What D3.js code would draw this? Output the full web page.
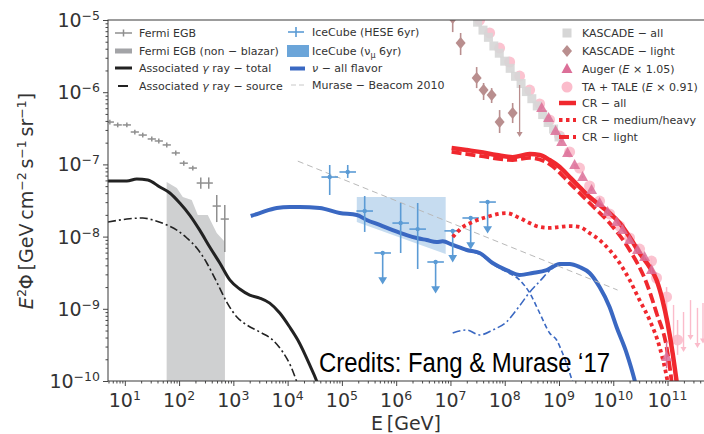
<!DOCTYPE html>
<html>
<head>
<meta charset="utf-8">
<script src="https://cdn.jsdelivr.net/npm/d3@7"></script>
<style>
  body { margin: 0; background: #fff; }
  svg { display: block; }
  text { font-family: "DejaVu Sans", sans-serif; fill: #333; }
</style>
</head>
<body>
<svg id="chart" width="704" height="434"></svg>
<script>
// Energies in GeV, fluxes as E^2 Phi in GeV cm^-2 s^-1 sr^-1

// Fermi extragalactic gamma-ray background
const fermiE  = [5.3, 7.4, 10.9, 15.3, 21.4, 31.4, 42.3, 59.3, 86.9, 122, 179, 251, 352, 494, 695];
const fermiF  = [3.86e-7, 3.52e-7, 3.52e-7, 2.81e-7, 2.55e-7, 2.25e-7, 2.11e-7, 1.86e-7, 1.44e-7, 1.04e-7, 8.9e-8, 5.52e-8, 5.52e-8, 2.65e-8, 1.75e-8];
const fermiLo = [3.57e-7, 3.26e-7, 3.26e-7, 2.60e-7, 2.36e-7, 2.08e-7, 1.95e-7, 1.72e-7, 1.33e-7, 9.6e-8, 8.2e-8, 4.6e-8, 4.6e-8, 1.59e-8, 6.1e-9];
const fermiHi = [4.17e-7, 3.80e-7, 3.80e-7, 3.03e-7, 2.75e-7, 2.43e-7, 2.28e-7, 2.01e-7, 1.56e-7, 1.12e-7, 9.6e-8, 6.6e-8, 6.6e-8, 3.77e-8, 2.74e-8];
const fermiBin = 1.19;

// Fermi EGB non-blazar upper band
const nonBlazarE = [59, 90.8, 117, 171, 221, 338, 494, 700];
const nonBlazarF = [5.7e-8, 4.71e-8, 3.53e-8, 3.21e-8, 1.99e-8, 1.99e-8, 1.12e-8, 8.4e-9];

// Associated gamma rays
const assocTotE = [4.9, 10.9, 16.6, 26.5, 44.2, 67.5, 103, 157, 240, 367, 562, 859, 1310, 2000, 3060, 4680, 7160, 10900, 15400, 25500, 35800, 45000];
const assocTotF = [5.89e-8, 5.89e-8, 6.28e-8, 6.08e-8, 4.86e-8, 4.02e-8, 2.92e-8, 1.99e-8, 1.23e-8, 7.18e-9, 4.31e-9, 2.51e-9, 1.88e-9, 1.55e-9, 1.41e-9, 1.20e-9, 8.75e-10, 5.60e-10, 3.70e-10, 1.67e-10, 9.1e-11, 5e-11];
const assocSrcE = [4.9, 10.9, 21.4, 32.8, 59.3, 90.8, 139, 212, 324, 494, 755, 1160, 1770, 3060, 5320, 8130, 11400, 14700, 20000];
const assocSrcF = [1.59e-8, 1.75e-8, 1.81e-8, 1.70e-8, 1.45e-8, 1.23e-8, 9.57e-9, 6.95e-9, 4.31e-9, 2.35e-9, 1.24e-9, 7.69e-10, 5.97e-10, 4.78e-10, 3.70e-10, 2.52e-10, 1.61e-10, 9.8e-11, 5e-11];

// Neutrinos: all flavor and its two components
const nuE = [2090, 3060, 6300, 10900, 16700, 39000, 91000, 1.88e5, 2.86e5, 4.97e5, 8.63e5, 1.56e6, 2.39e6, 3.65e6, 5.57e6, 7.18e6, 1.10e7, 1.99e7, 3.45e7, 5.98e7, 1.08e8, 1.88e8, 3.27e8, 5.92e8, 1.03e9, 1.57e9, 2.39e9, 3.66e9, 5.60e9, 8.55e9, 1.15e10, 1.76e10, 2.47e10, 3.0e10];
const nuF = [1.93e-8, 2.12e-8, 2.49e-8, 2.57e-8, 2.57e-8, 2.49e-8, 2.12e-8, 1.99e-8, 1.70e-8, 1.45e-8, 1.23e-8, 1.05e-8, 9.57e-9, 8.97e-9, 8.41e-9, 8.6e-9, 7.66e-9, 6.52e-9, 5.93e-9, 4.31e-9, 3.44e-9, 2.94e-9, 3.13e-9, 3.44e-9, 4.17e-9, 4.17e-9, 3.79e-9, 3.13e-9, 2.00e-9, 1.06e-9, 5.60e-10, 2.44e-10, 1.03e-10, 5.5e-11];
const nuLowE = [1.99e7, 3.45e7, 5.98e7, 1.08e8, 1.88e8, 2.88e8, 4.40e8, 6.71e8, 9.04e8, 1.16e9, 1.78e9, 2.2e9];
const nuLowF = [6.3e-9, 5.7e-9, 4.17e-9, 3.24e-9, 2.51e-9, 1.66e-9, 8.75e-10, 4.62e-10, 3.70e-10, 2.44e-10, 9.8e-11, 6e-11];
const nuHighE = [1.10e7, 1.99e7, 3.45e7, 5.98e7, 1.08e8, 1.88e8, 2.88e8, 4.40e8, 7.62e8, 1.16e9, 1.78e9, 2.51e9, 3.66e9];
const nuHighF = [4.62e-10, 5.08e-10, 4.34e-10, 5.08e-10, 6.6e-10, 1.1e-9, 1.7e-9, 2.4e-9, 3.67e-9, 4.31e-9, 4.17e-9, 3.70e-9, 3.05e-9];

// Murase - Beacom 2010
const mbE = [1.54e4, 1.2e10];
const mbF = [1.11e-7, 1.82e-9];

// IceCube HESE 6yr
const heseE  = [5.96e4, 1.28e5, 2.63e5, 1.21e6, 2.49e6];
const heseF  = [6.68e-8, 7.85e-8, 2.26e-8, 1.54e-8, 1.27e-8];
const heseLo = [3.77e-8, 6.49e-8, 1.16e-8, 5.93e-9, 3.56e-9];
const heseHi = [9.82e-8, 9.82e-8, 3.65e-8, 2.92e-8, 2.92e-8];
const heseUlE = [5.64e5, 5.33e6, 1.10e7, 2.36e7, 4.84e7];
const heseUlF = [5.93e-9, 4.45e-9, 1.20e-8, 1.81e-8, 3.01e-8];
const heseBin = 1.42;
const heseUlDrop = 2.6;

// IceCube nu_mu 6yr band
const numuE   = [1.88e5, 8.17e6];
const numuTop = [3.53e-8, 3.53e-8];
const numuBot = [1.59e-8, 5.74e-9];

// KASCADE all-particle
const kascE = [2.51e7, 3.16e7, 3.98e7, 5.01e7, 6.31e7, 7.94e7, 1.0e8, 1.26e8, 1.58e8, 2.0e8, 2.51e8, 3.16e8, 3.98e8, 5.01e8, 6.31e8, 7.94e8, 1.0e9];
const kascF = [1.17e-5, 9.33e-6, 7.24e-6, 5.75e-6, 4.37e-6, 3.47e-6, 2.69e-6, 2.14e-6, 1.66e-6, 1.32e-6, 1.02e-6, 8.13e-7, 6.46e-7, 4.90e-7, 3.80e-7, 3.09e-7, 2.40e-7];

// KASCADE light component
const kascLightE  = [1.10e7, 1.54e7, 3.04e7, 4.08e7, 5.74e7, 8.05e7, 1.40e8];
const kascLightF  = [1.07e-5, 4.80e-6, 1.57e-6, 1.07e-6, 9.14e-7, 3.86e-7, 5.15e-7];
const kascLightLo = [6.8e-6, 3.27e-6, 1.14e-6, 7.80e-7, 7.08e-7, 2.72e-7, 3.74e-7];
const kascLightHi = [1.4e-5, 6.61e-6, 2.23e-6, 1.34e-6, 1.14e-6, 5.66e-7, 7.08e-7];
const kascLightUlE   = [1.88e8];
const kascLightUlTop = [1.26e-6];
const kascLightUlBot = [2.4e-7];

// Auger (E x 1.05)
const augerE  = [4.79e8, 6.43e8, 8.65e8, 1.12e9, 1.44e9, 1.94e9, 2.72e9, 3.98e9, 5.60e9, 7.85e9, 1.15e10, 1.48e10, 2.00e10, 2.80e10, 3.77e10, 5.07e10, 9.6e10];
const augerF  = [6.04e-7, 4.40e-7, 2.90e-7, 2.04e-7, 1.44e-7, 9.82e-8, 6.68e-8, 4.42e-8, 2.92e-8, 2.19e-8, 1.59e-8, 1.23e-8, 8.97e-9, 6.52e-9, 5.21e-9, 3.44e-9, 2.15e-10];
const augerLo = [6.0e-7, 4.38e-7, 2.88e-7, 2.02e-7, 1.43e-7, 9.7e-8, 6.6e-8, 4.35e-8, 2.87e-8, 2.14e-8, 1.54e-8, 1.18e-8, 8.5e-9, 6.1e-9, 4.8e-9, 3.0e-9, 1.5e-10];
const augerHi = [6.1e-7, 4.44e-7, 2.93e-7, 2.07e-7, 1.46e-7, 9.95e-8, 6.8e-8, 4.5e-8, 2.98e-8, 2.25e-8, 1.65e-8, 1.28e-8, 9.4e-9, 6.9e-9, 5.6e-9, 3.9e-9, 3.5e-10];

// TA + TALE (E x 0.91)
const taE  = [3.45e7, 5.27e7, 8.05e7, 1.23e8, 1.88e8, 2.88e8, 4.40e8, 6.71e8, 1.03e9, 1.57e9, 2.39e9, 3.66e9, 5.60e9, 8.55e9, 1.31e10, 2.00e10, 3.05e10, 5.07e10, 6.27e10, 9.6e10, 1.53e11];
const taF  = [1.0e-5, 6.61e-6, 4.09e-6, 2.62e-6, 1.67e-6, 1.07e-6, 6.87e-7, 4.12e-7, 2.47e-7, 1.49e-7, 8.91e-8, 5.02e-8, 3.11e-8, 2.06e-8, 1.40e-8, 9.57e-9, 6.73e-9, 4.59e-9, 2.67e-9, 1.46e-9, 3.70e-10];
const taLo = [1.0e-5, 6.61e-6, 4.09e-6, 2.62e-6, 1.67e-6, 1.07e-6, 6.87e-7, 4.12e-7, 2.47e-7, 1.49e-7, 8.91e-8, 5.02e-8, 3.11e-8, 2.06e-8, 1.40e-8, 9.57e-9, 6.4e-9, 4.1e-9, 2.2e-9, 8.7e-10, 2.3e-10];
const taHi = [1.0e-5, 6.61e-6, 4.09e-6, 2.62e-6, 1.67e-6, 1.07e-6, 6.87e-7, 4.12e-7, 2.47e-7, 1.49e-7, 8.91e-8, 5.02e-8, 3.11e-8, 2.06e-8, 1.40e-8, 9.57e-9, 7.1e-9, 5.1e-9, 3.2e-9, 2.0e-9, 7.0e-10];
const taUlE   = [1.29e11, 1.97e11, 2.65e11, 3.56e11, 4.5e11];
const taUlTop = [1.13e-9, 9.03e-10, 1.32e-9, 1.03e-9, 1.2e-9];
const taUlBot = [3.15e-10, 2.53e-10, 3.70e-10, 2.86e-10, 3.3e-10];

// Cosmic-ray model curves
const crAllE = [1.05e7, 1.99e7, 3.45e7, 7.10e7, 1.40e8, 2.88e8, 4.40e8, 6.71e8, 1.03e9, 1.57e9, 2.39e9, 3.66e9, 5.60e9, 8.55e9, 1.31e10, 2.00e10, 3.05e10, 4.67e10, 6.27e10, 8.09e10, 1.0e11, 1.24e11, 1.47e11, 1.8e11];
const crAllF = [1.69e-7, 1.58e-7, 1.49e-7, 1.35e-7, 1.26e-7, 1.39e-7, 1.35e-7, 1.15e-7, 9.2e-8, 6.68e-8, 4.86e-8, 3.53e-8, 2.74e-8, 2.12e-8, 1.54e-8, 9.86e-9, 5.93e-9, 3.79e-9, 2.51e-9, 1.32e-9, 6.35e-10, 2.44e-10, 9.8e-11, 3e-11];
const crHeavyE = [1.10e7, 1.61e7, 2.56e7, 4.65e7, 1.08e8, 1.88e8, 2.88e8, 4.40e8, 6.71e8, 1.03e9, 1.57e9, 2.39e9, 3.66e9, 5.60e9, 8.55e9, 1.31e10, 2.00e10, 3.05e10, 4.67e10, 7.13e10, 1.0e11, 1.2e11];
const crHeavyF = [9.86e-9, 1.32e-8, 1.59e-8, 1.87e-8, 2.12e-8, 1.81e-8, 1.54e-8, 1.36e-8, 1.32e-8, 1.36e-8, 1.40e-8, 1.36e-8, 1.12e-8, 8.97e-9, 6.52e-9, 4.31e-9, 2.51e-9, 1.32e-9, 7.0e-10, 2.96e-10, 9.8e-11, 4e-11];
const crLightE = [1.05e7, 3.45e7, 1.40e8, 2.88e8, 6.71e8, 1.57e9, 3.66e9, 8.55e9, 2.00e10, 4.10e10, 6.27e10, 9.6e10, 1.19e11, 1.4e11];
const crLightF = [1.49e-7, 1.31e-7, 1.15e-7, 1.23e-7, 1.01e-7, 5.52e-8, 2.92e-8, 1.54e-8, 6.52e-9, 2.28e-9, 8.75e-10, 2.96e-10, 9.8e-11, 3e-11];

// Axis ticks
const xTickExp = [1, 2, 3, 4, 5, 6, 7, 8, 9, 10, 11];
const yTickExp = [-10, -9, -8, -7, -6, -5];

// ---------------------------------------------------------------
const svg = d3.select("#chart");
const M = { left: 108, top: 20, right: 705, bottom: 381 };
const x = d3.scaleLog().domain([4.9, 4.9e11]).range([M.left, M.right]);
const y = d3.scaleLog().domain([1e-10, 1e-5]).range([M.bottom, M.top]);

const zip = (a, b) => a.map((v, i) => [v, b[i]]);
const minus = s => String(s).replace("-", "\u2212");

svg.append("defs").append("clipPath").attr("id", "plotClip")
  .append("rect").attr("x", M.left).attr("y", M.top)
  .attr("width", M.right - M.left).attr("height", M.bottom - M.top);

const plot = svg.append("g").attr("clip-path", "url(#plotClip)");

const line = d3.line().x(d => x(d[0])).y(d => y(d[1])).curve(d3.curveMonotoneX);
const lineLin = d3.line().x(d => x(d[0])).y(d => y(d[1]));

function drawLine(E, F, color, width, dash, gen) {
  plot.append("path").datum(zip(E, F))
    .attr("d", gen || line).attr("fill", "none")
    .attr("stroke", color).attr("stroke-width", width)
    .attr("stroke-dasharray", dash || null)
    .attr("stroke-linejoin", "round");
}

function arrowDown(g, cx, yTop, yBot, color, w) {
  g.append("line").attr("x1", cx).attr("x2", cx).attr("y1", yTop).attr("y2", yBot - 3)
    .attr("stroke", color).attr("stroke-width", w);
  g.append("path").attr("d", `M${cx - 3},${yBot - 5}L${cx + 3},${yBot - 5}L${cx},${yBot}Z`)
    .attr("fill", color);
}

// Fermi non-blazar band (filled down to the bottom)
const bandPts = zip(nonBlazarE, nonBlazarF);
const bandArea = d3.area().x(d => x(d[0])).y0(y(1e-11)).y1(d => y(d[1]));
plot.append("path").datum(bandPts).attr("d", bandArea)
  .attr("fill", "#a3a4a7").attr("fill-opacity", 0.52);

// Fermi EGB points
const fermiColor = "#8f8f8f";
const gFermi = plot.append("g").attr("stroke", fermiColor).attr("stroke-width", 1.5);
fermiE.forEach((e, i) => {
  gFermi.append("line").attr("x1", x(e / fermiBin)).attr("x2", x(e * fermiBin))
    .attr("y1", y(fermiF[i])).attr("y2", y(fermiF[i]));
  gFermi.append("line").attr("x1", x(e)).attr("x2", x(e))
    .attr("y1", y(fermiLo[i])).attr("y2", y(fermiHi[i]));
});

// Associated gamma rays
drawLine(assocTotE, assocTotF, "#222", 3);
drawLine(assocSrcE, assocSrcF, "#222", 1.6, "8,3,2,3");

// IceCube nu_mu band
const numuArea = d3.area().x(d => x(d[0])).y0(d => y(d[2])).y1(d => y(d[1]));
plot.append("path").datum(numuE.map((e, i) => [e, numuTop[i], numuBot[i]]))
  .attr("d", numuArea).attr("fill", "#5b9bd5").attr("fill-opacity", 0.35);

// Neutrino curves
const nuColor = "#3a68c2";
drawLine(nuLowE, nuLowF, nuColor, 1.6, "5,3");
drawLine(nuHighE, nuHighF, nuColor, 1.6, "8,3,2,3");
drawLine(nuE, nuF, nuColor, 4);

// Murase - Beacom 2010
drawLine(mbE, mbF, "#b9b9b9", 1, "6,4", lineLin);

// IceCube HESE
const heseColor = "#5b9bd5";
const gHese = plot.append("g").attr("stroke", heseColor).attr("stroke-width", 1.6);
heseE.forEach((e, i) => {
  gHese.append("line").attr("x1", x(e / heseBin)).attr("x2", x(e * heseBin))
    .attr("y1", y(heseF[i])).attr("y2", y(heseF[i]));
  gHese.append("line").attr("x1", x(e)).attr("x2", x(e))
    .attr("y1", y(heseLo[i])).attr("y2", y(heseHi[i]));
  gHese.append("circle").attr("cx", x(e)).attr("cy", y(heseF[i])).attr("r", 2.2)
    .attr("fill", heseColor).attr("stroke", "none");
});
heseUlE.forEach((e, i) => {
  gHese.append("line").attr("x1", x(e / heseBin)).attr("x2", x(e * heseBin))
    .attr("y1", y(heseUlF[i])).attr("y2", y(heseUlF[i]));
  arrowDown(gHese, x(e), y(heseUlF[i]), y(heseUlF[i] / heseUlDrop), heseColor, 1.6);
  gHese.append("circle").attr("cx", x(e)).attr("cy", y(heseUlF[i])).attr("r", 2.2)
    .attr("fill", heseColor).attr("stroke", "none");
});

// Cosmic-ray data
const taColor = "#fbbccb", augerColor = "#dc6f98", kascColor = "#d6d6d6", kascLightColor = "#b98e8e";

const gTa = plot.append("g");
taE.forEach((e, i) => {
  gTa.append("line").attr("x1", x(e)).attr("x2", x(e))
    .attr("y1", y(taLo[i])).attr("y2", y(taHi[i]))
    .attr("stroke", taColor).attr("stroke-width", 1.5);
  gTa.append("circle").attr("cx", x(e)).attr("cy", y(taF[i])).attr("r", 5.5)
    .attr("fill", taColor).attr("fill-opacity", 0.9);
});
taUlE.forEach((e, i) => {
  arrowDown(gTa, x(e), y(taUlTop[i]), y(taUlBot[i]), taColor, 1.4);
});

const gKasc = plot.append("g");
kascE.forEach((e, i) => {
  gKasc.append("rect").attr("x", x(e) - 4.5).attr("y", y(kascF[i]) - 4.5)
    .attr("width", 9).attr("height", 9).attr("fill", kascColor).attr("fill-opacity", 0.9);
});

const gKl = plot.append("g");
kascLightE.forEach((e, i) => {
  gKl.append("line").attr("x1", x(e)).attr("x2", x(e))
    .attr("y1", y(kascLightLo[i])).attr("y2", y(kascLightHi[i]))
    .attr("stroke", kascLightColor).attr("stroke-width", 1.6);
  const cx = x(e), cy = y(kascLightF[i]);
  gKl.append("path").attr("d", `M${cx},${cy - 6}L${cx + 5},${cy}L${cx},${cy + 6}L${cx - 5},${cy}Z`)
    .attr("fill", kascLightColor);
});
kascLightUlE.forEach((e, i) => {
  arrowDown(gKl, x(e), y(kascLightUlTop[i]), y(kascLightUlBot[i]), kascLightColor, 1.3);
});

// Cosmic-ray model curves
const crColor = "#f0282e";
drawLine(crHeavyE, crHeavyF, crColor, 3.8, "3.5,3.5");
drawLine(crLightE, crLightF, crColor, 3.8, "10,4");
drawLine(crAllE, crAllF, crColor, 4.5);

// Auger points sit on top of the model curves
const gAuger = plot.append("g");
augerE.forEach((e, i) => {
  const cx = x(e), cy = y(augerF[i]);
  gAuger.append("line").attr("x1", cx).attr("x2", cx)
    .attr("y1", y(augerLo[i])).attr("y2", y(augerHi[i]))
    .attr("stroke", augerColor).attr("stroke-width", 1.5);
  gAuger.append("path").attr("d", `M${cx},${cy - 6}L${cx + 5.5},${cy + 4}L${cx - 5.5},${cy + 4}Z`)
    .attr("fill", augerColor).attr("fill-opacity", 0.85);
});

// ---------------------------------------------------------------
// Axes
const xMajor = xTickExp.map(p => Math.pow(10, p));
const xMinor = [];
for (let p = 0; p <= 11; p++) for (let k = 2; k <= 9; k++) {
  const v = k * Math.pow(10, p);
  if (v >= 4.9 && v <= 4.9e11) xMinor.push(v);
}
const yMajor = yTickExp.map(p => Math.pow(10, p));
const yMinor = [];
for (let p = -10; p < -5; p++) for (let k = 2; k <= 9; k++) yMinor.push(k * Math.pow(10, p));

function styleAxis(g) {
  g.select(".domain").remove();
  g.selectAll(".tick line").attr("stroke", "#333").attr("stroke-width", 0.9);
  g.selectAll(".tick text").remove();
}

const gx = svg.append("g").attr("transform", `translate(0,${M.bottom})`);
gx.append("g").call(d3.axisBottom(x).tickValues(xMinor).tickSize(2.5).tickSizeOuter(0)).call(styleAxis);
gx.append("g").call(d3.axisBottom(x).tickValues(xMajor).tickSize(5).tickSizeOuter(0)).call(styleAxis);

const gy = svg.append("g").attr("transform", `translate(${M.left},0)`);
gy.append("g").call(d3.axisLeft(y).tickValues(yMinor).tickSize(2.5).tickSizeOuter(0)).call(styleAxis);
gy.append("g").call(d3.axisLeft(y).tickValues(yMajor).tickSize(5).tickSizeOuter(0)).call(styleAxis);

// Frame
svg.append("rect").attr("x", M.left).attr("y", M.top)
  .attr("width", M.right - M.left).attr("height", M.bottom - M.top)
  .attr("fill", "none").attr("stroke", "#3a3a3a").attr("stroke-width", 1);

// Power-of-ten tick labels
xTickExp.forEach(p => {
  const t = svg.append("text").attr("x", x(Math.pow(10, p))).attr("y", M.bottom + 26)
    .attr("text-anchor", "middle").attr("font-size", 19);
  t.append("tspan").text("10");
  t.append("tspan").attr("dy", -7).attr("font-size", 12.5).text(minus(p));
});
yTickExp.forEach(p => {
  const t = svg.append("text").attr("x", M.left - 8).attr("y", y(Math.pow(10, p)) + 7)
    .attr("text-anchor", "end").attr("font-size", 19);
  t.append("tspan").text("10");
  t.append("tspan").attr("dy", -7).attr("font-size", 12.5).text(minus(p));
});

// Axis titles
svg.append("text").attr("x", 406).attr("y", 430).attr("text-anchor", "middle")
  .attr("font-size", 19).text("E\u2009[GeV]");

const yt = svg.append("text").attr("transform", "translate(33,201) rotate(-90)")
  .attr("text-anchor", "middle").attr("font-size", 19);
yt.append("tspan").attr("font-style", "italic").text("E");
yt.append("tspan").attr("dy", -7).attr("font-size", 12.5).text("2");
yt.append("tspan").attr("dy", 7).text("\u03A6\u2009[GeV\u2009cm");
yt.append("tspan").attr("dy", -7).attr("font-size", 12.5).text("\u22122");
yt.append("tspan").attr("dy", 7).text("\u2009s");
yt.append("tspan").attr("dy", -7).attr("font-size", 12.5).text("\u22121");
yt.append("tspan").attr("dy", 7).text("\u2009sr");
yt.append("tspan").attr("dy", -7).attr("font-size", 12.5).text("\u22121");
yt.append("tspan").attr("dy", 7).text("]");

// ---------------------------------------------------------------
// Legends
function richText(tx, ty, parts) {
  const t = svg.append("text").attr("x", tx).attr("y", ty).attr("font-size", 11);
  parts.forEach(p => {
    const s = t.append("tspan").text(p.t);
    if (p.i) s.attr("font-style", "italic");
    if (p.sub) s.attr("dy", 3).attr("font-size", 8);
    if (p.back) s.attr("dy", -3);
  });
  return t;
}

// Legend 1
const L1 = { hx0: 115, hx1: 132, tx: 139 };
const l1 = svg.append("g");
l1.append("line").attr("x1", L1.hx0).attr("x2", L1.hx1).attr("y1", 33).attr("y2", 33)
  .attr("stroke", fermiColor).attr("stroke-width", 1.5);
l1.append("line").attr("x1", 123.5).attr("x2", 123.5).attr("y1", 29.5).attr("y2", 36.5)
  .attr("stroke", fermiColor).attr("stroke-width", 1.5);
l1.append("rect").attr("x", L1.hx0).attr("y", 48.5).attr("width", L1.hx1 - L1.hx0).attr("height", 5)
  .attr("fill", "#a3a4a7");
l1.append("line").attr("x1", L1.hx0).attr("x2", L1.hx1).attr("y1", 68).attr("y2", 68)
  .attr("stroke", "#222").attr("stroke-width", 3);
l1.append("line").attr("x1", 118).attr("x2", 128).attr("y1", 86).attr("y2", 86)
  .attr("stroke", "#222").attr("stroke-width", 2);
richText(L1.tx, 37, [{ t: "Fermi EGB" }]);
richText(L1.tx, 55, [{ t: "Fermi EGB (non \u2212 blazar)" }]);
richText(L1.tx, 72, [{ t: "Associated " }, { t: "\u03B3", i: 1 }, { t: " ray \u2212 total" }]);
richText(L1.tx, 90, [{ t: "Associated " }, { t: "\u03B3", i: 1 }, { t: " ray \u2212 source" }]);

// Legend 2
const L2 = { hx0: 287, hx1: 309, tx: 312 };
const l2 = svg.append("g");
l2.append("line").attr("x1", 288).attr("x2", 304).attr("y1", 32).attr("y2", 32)
  .attr("stroke", heseColor).attr("stroke-width", 1.6);
l2.append("line").attr("x1", 296).attr("x2", 296).attr("y1", 27).attr("y2", 37)
  .attr("stroke", heseColor).attr("stroke-width", 1.6);
l2.append("rect").attr("x", L2.hx0).attr("y", 45).attr("width", L2.hx1 - L2.hx0).attr("height", 12)
  .attr("fill", "#5b9bd5").attr("fill-opacity", 0.9);
l2.append("line").attr("x1", 290).attr("x2", 305).attr("y1", 68.5).attr("y2", 68.5)
  .attr("stroke", nuColor).attr("stroke-width", 4);
l2.append("line").attr("x1", 291).attr("x2", 306).attr("y1", 85).attr("y2", 85)
  .attr("stroke", "#c8c8c8").attr("stroke-width", 1).attr("stroke-dasharray", "5,3");
richText(L2.tx, 36, [{ t: "IceCube (HESE 6yr)" }]);
richText(L2.tx, 55, [{ t: "IceCube (\u03BD" }, { t: "\u03BC", sub: 1 }, { t: " 6yr)", back: 1 }]);
richText(L2.tx, 72, [{ t: "\u03BD", i: 1 }, { t: " \u2212 all flavor" }]);
richText(L2.tx, 89, [{ t: "Murase \u2212 Beacom 2010" }]);

// Legend 3
const L3 = { cx: 567, hx0: 559, hx1: 576, tx: 582 };
const l3 = svg.append("g");
l3.append("rect").attr("x", L3.cx - 4.5).attr("y", 33 - 4.5).attr("width", 9).attr("height", 9).attr("fill", kascColor);
l3.append("path").attr("d", `M${L3.cx},45L${L3.cx + 5},51L${L3.cx},57L${L3.cx - 5},51Z`).attr("fill", kascLightColor);
l3.append("path").attr("d", `M${L3.cx},63L${L3.cx + 5.5},73L${L3.cx - 5.5},73Z`).attr("fill", augerColor);
l3.append("circle").attr("cx", L3.cx).attr("cy", 87).attr("r", 5.5).attr("fill", taColor);
l3.append("line").attr("x1", L3.hx0).attr("x2", L3.hx1).attr("y1", 103).attr("y2", 103)
  .attr("stroke", crColor).attr("stroke-width", 4.5);
l3.append("line").attr("x1", L3.hx0).attr("x2", L3.hx1).attr("y1", 120).attr("y2", 120)
  .attr("stroke", crColor).attr("stroke-width", 3.8).attr("stroke-dasharray", "3.5,3.5");
l3.append("line").attr("x1", L3.hx0).attr("x2", L3.hx1).attr("y1", 137).attr("y2", 137)
  .attr("stroke", crColor).attr("stroke-width", 3.8).attr("stroke-dasharray", "10,4");
richText(L3.tx, 37, [{ t: "KASCADE \u2212 all" }]);
richText(L3.tx, 55, [{ t: "KASCADE \u2212 light" }]);
richText(L3.tx, 73, [{ t: "Auger (" }, { t: "E", i: 1 }, { t: " \u00D7 1.05)" }]);
richText(L3.tx, 91, [{ t: "TA + TALE (" }, { t: "E", i: 1 }, { t: " \u00D7 0.91)" }]);
richText(L3.tx, 107, [{ t: "CR \u2212 all" }]);
richText(L3.tx, 124, [{ t: "CR \u2212 medium/heavy" }]);
richText(L3.tx, 141, [{ t: "CR \u2212 light" }]);

// Credits
svg.append("text").attr("x", 319).attr("y", 372)
  .style("font-family", "'Liberation Sans', Arial, sans-serif")
  .attr("font-size", 27).attr("fill", "#000").style("fill", "#000")
  .attr("textLength", 291).attr("lengthAdjust", "spacingAndGlyphs")
  .text("Credits: Fang & Murase \u201817");
</script>
</body>
</html>
